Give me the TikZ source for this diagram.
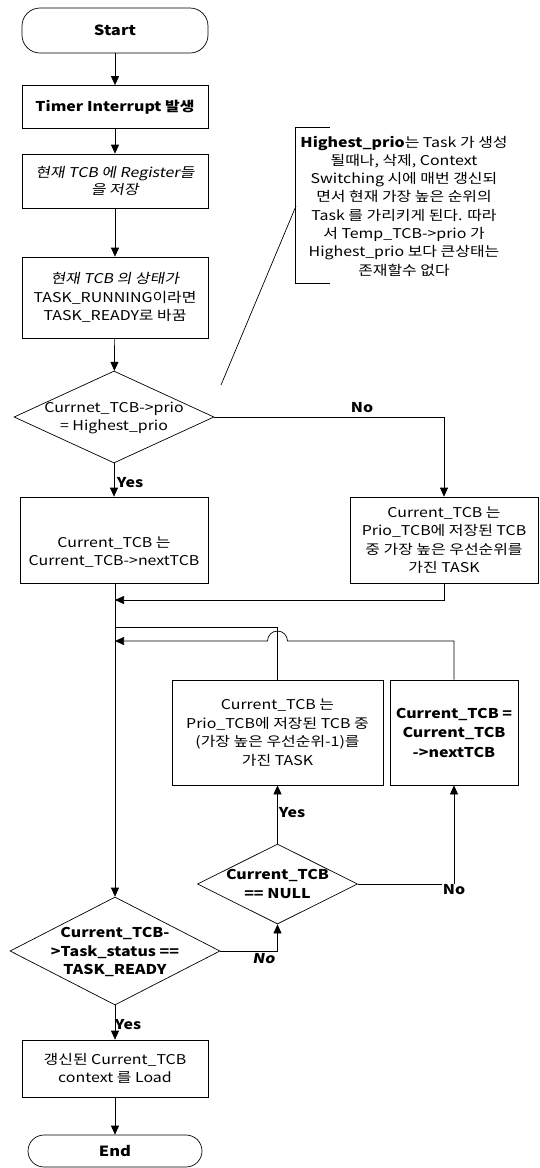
\documentclass[tikz,border=0pt]{standalone}
\usepackage{fontspec}
\setmainfont{Noto Sans CJK KR}[FakeStretch=1.18]
\newfontfamily\slfont[FakeSlant=0.18,FakeStretch=1.18]{Noto Sans CJK KR}
\usetikzlibrary{arrows.meta,shapes.geometric}
\begin{document}
\begin{tikzpicture}[x=1pt,y=-1pt,
  txt/.style={font=\fontsize{13.5}{18.5}\selectfont, align=center, inner sep=1},
  stepbox/.style={draw, line width=0.7, minimum width=186, align=center, inner sep=2,
    font=\fontsize{13.5}{18.5}\selectfont},
  term/.style={draw, line width=0.7, minimum width=186, font=\fontsize{14}{18}\selectfont\bfseries},
  dia/.style={draw, line width=0.7, shape=diamond, inner sep=0},
  conn/.style={line width=0.7},
  arr/.style={line width=0.7, -{Triangle[length=9,width=8]}},
  lbl/.style={font=\fontsize{13.5}{16}\selectfont\bfseries, inner sep=1}
]
\useasboundingbox (0,0) rectangle (540,1168);

% main column
\node[term, rounded corners=18, minimum height=45] (start) at (115,30.5) {Start};
\node[stepbox, minimum height=43, font=\fontsize{13.5}{18.5}\selectfont\bfseries] (timer) at (115,107) {Timer Interrupt 발생};
\node[stepbox, minimum height=54] (reg) at (115,181) {\slfont 현재 TCB 에 Register들\\[-1pt]\slfont 을 저장};
\node[stepbox, minimum height=81] (state) at (115,297.5) {\slfont 현재 TCB 의 상태가\\TASK\_RUNNING이라면\\TASK\_READY로 바꿈};

\node[dia, minimum width=200, minimum height=92] (d1) at (114,417) {};
\node[txt] (d1t) at (114,418) {Currnet\_TCB->prio\\= Highest\_prio};

\node[stepbox, minimum width=188, minimum height=86] (lbox) at (114,540) {};
\node[txt] (lboxt) at (114,552) {Current\_TCB 는\\Current\_TCB->nextTCB};
\node[stepbox, minimum width=188, minimum height=86] (rbox) at (444,540) {Current\_TCB 는\\Prio\_TCB에 저장된 TCB\\중 가장 높은 우선순위를\\가진 TASK};

\node[stepbox, minimum width=211, minimum height=105] (mbox) at (277.5,732.5) {Current\_TCB 는\\Prio\_TCB에 저장된 TCB 중\\(가장 높은 우선순위-1)를\\가진 TASK};
\node[stepbox, minimum width=128, minimum height=105, font=\fontsize{13.5}{19.5}\selectfont\bfseries] (sbox) at (454,732.5) {Current\_TCB =\\Current\_TCB\\->nextTCB};

\node[dia, minimum width=160, minimum height=80] (d2) at (277.5,884) {};
\node[txt, font=\fontsize{13.5}{18.5}\selectfont\bfseries] (d2t) at (277.5,884) {Current\_TCB\\== NULL};

\node[dia, minimum width=210, minimum height=108] (d3) at (115,951) {};
\node[txt, font=\fontsize{13.5}{18.5}\selectfont\bfseries] (d3t) at (115,952) {Current\_TCB-\\>Task\_status ==\\TASK\_READY};

\node[stepbox, minimum height=57] (ctx) at (115,1068.5) {갱신된 Current\_TCB\\context 를 Load};
\node[term, rounded corners=16, minimum width=174, minimum height=32] (end) at (115,1151) {End};

% annotation
\node[txt, font=\fontsize{13.5}{18.3}\selectfont] (ann) at (404,206) {\textbf{Highest\_prio}는 Task 가 생성\\될때나, 삭제, Context\\Switching 시에 매번 갱신되\\면서 현재 가장 높은 순위의\\Task 를 가리키게 된다. 따라\\서 Temp\_TCB->prio 가\\Highest\_prio 보다 큰상태는\\존재할수 없다};
\draw[conn] (330,127) -- (295,127) -- (295,283) -- (330,283);
\coordinate (annpt) at (296,206);
\coordinate (annend) at (221,385);
\draw[conn] (annpt) -- (annend);

% connectors
\draw[arr] (start) -- (timer);
\draw[arr] (timer) -- (reg);
\draw[arr] (reg) -- (state);
\draw[arr] (state) -- (d1);
\draw[arr] (d1.south) -- (lbox.north);
\node[lbl] (yes1) at (130,483) {Yes};
\draw[arr] (d1.east) -| (rbox.north);
\node[lbl] (no1) at (362,408) {No};

\coordinate (m1) at (115,600);
\coordinate (m2) at (115,627);
\coordinate (m3) at (115,641);
\draw[arr] (lbox.south -| m1) -- (d3.north);
\draw[arr] (rbox.south) |- (m1);
\draw[conn] (mbox.north) |- (m2);
\draw[arr] (sbox.north) |- (287.5,641) arc[start angle=0, end angle=-180, radius=10] -- (m3);

\draw[arr] (d2.north) -- (mbox.south);
\node[lbl] (yes2) at (292,813) {Yes};
\draw[arr] (d2.east) -| node[lbl, pos=0.5, fill=white, yshift=-6] (no2) {No} (sbox.south);

\draw[arr] (d3.east) -| node[lbl, pos=0.5, fill=white, xshift=-14, yshift=-8, font=\fontsize{13.5}{16}\selectfont\slfont\bfseries] (no3) {No} (d2.south);
\draw[arr] (d3.south) -- (ctx.north);
\node[lbl] (yes3) at (128,1025) {Yes};
\draw[arr] (ctx) -- (end);
\end{tikzpicture}
\end{document}
